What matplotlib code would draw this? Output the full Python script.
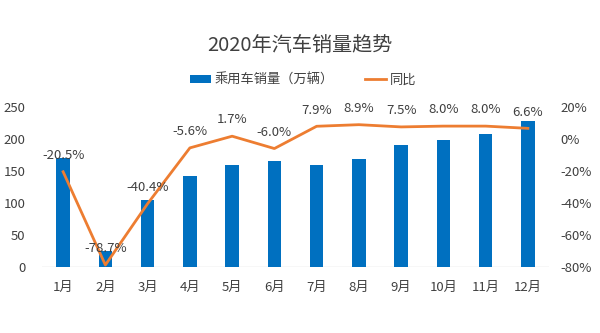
import matplotlib
matplotlib.use("Agg")
import matplotlib.pyplot as plt
from matplotlib.lines import Line2D
from matplotlib.patches import Patch

plt.rcParams['font.family'] = ['Noto Sans CJK SC', 'DejaVu Sans']

months = ["1月", "2月", "3月", "4月", "5月", "6月", "7月", "8月", "9月", "10月", "11月", "12月"]
sales = [171, 25, 104, 142, 160, 165, 159, 168, 190, 198, 207, 228]
yoy = [-20.5, -78.7, -40.4, -5.6, 1.7, -6.0, 7.9, 8.9, 7.5, 8.0, 8.0, 6.6]
left_ticks = [0, 50, 100, 150, 200, 250]
right_ticks = [-80, -60, -40, -20, 0, 20]

BLUE = "#0070C0"
ORANGE = "#ED7D31"
TXT = "#404040"

fig = plt.figure(figsize=(6, 3.33), dpi=100)
ax = fig.add_axes([0.07, 0.198, 0.845, 0.481])
x = list(range(len(months)))
ax.bar(x, sales, width=0.32, color=BLUE, zorder=2)
ax.set_xlim(-0.5, len(months) - 0.5)
ax.set_ylim(0, 250)
ax.set_yticks(left_ticks)
ax.set_xticks(x)
ax.set_xticklabels(months)
for s in ax.spines.values():
    s.set_visible(False)
ax.axhline(0, color="#d9d9d9", lw=1, zorder=1)
ax.tick_params(axis='both', length=0, labelsize=9.5, colors=TXT)
ax.tick_params(axis='x', pad=10)
ax.tick_params(axis='y', pad=12)

ax2 = ax.twinx()
ax2.plot(x, yoy, color=ORANGE, lw=2, zorder=3)
ax2.set_ylim(-80, 20)
ax2.set_yticks(right_ticks)
ax2.set_yticklabels([f"{t}%" for t in right_ticks])
for s in ax2.spines.values():
    s.set_visible(False)
ax2.tick_params(axis='y', length=0, labelsize=9.5, colors=TXT, pad=8)
for xi, v in zip(x, yoy):
    ax2.annotate(f"{v:.1f}%", (xi, v), xytext=(0, 7), textcoords="offset points",
                 ha="center", va="bottom", fontsize=9.5, color=TXT)

fig.text(0.5, 0.862, "2020年汽车销量趋势", ha="center", va="center", fontsize=14.5, color=TXT)
handles = [Patch(facecolor=BLUE, edgecolor="none"), Line2D([0], [0], color=ORANGE, lw=2)]
fig.legend(handles, ["乘用车销量（万辆）", "同比"], loc="center", bbox_to_anchor=(0.505, 0.76),
           ncol=2, frameon=False, fontsize=9.5, labelcolor=TXT, handlelength=1.6,
           handleheight=0.6, handletextpad=0.3, columnspacing=2.3)

fig.savefig("out.png", dpi=100)
